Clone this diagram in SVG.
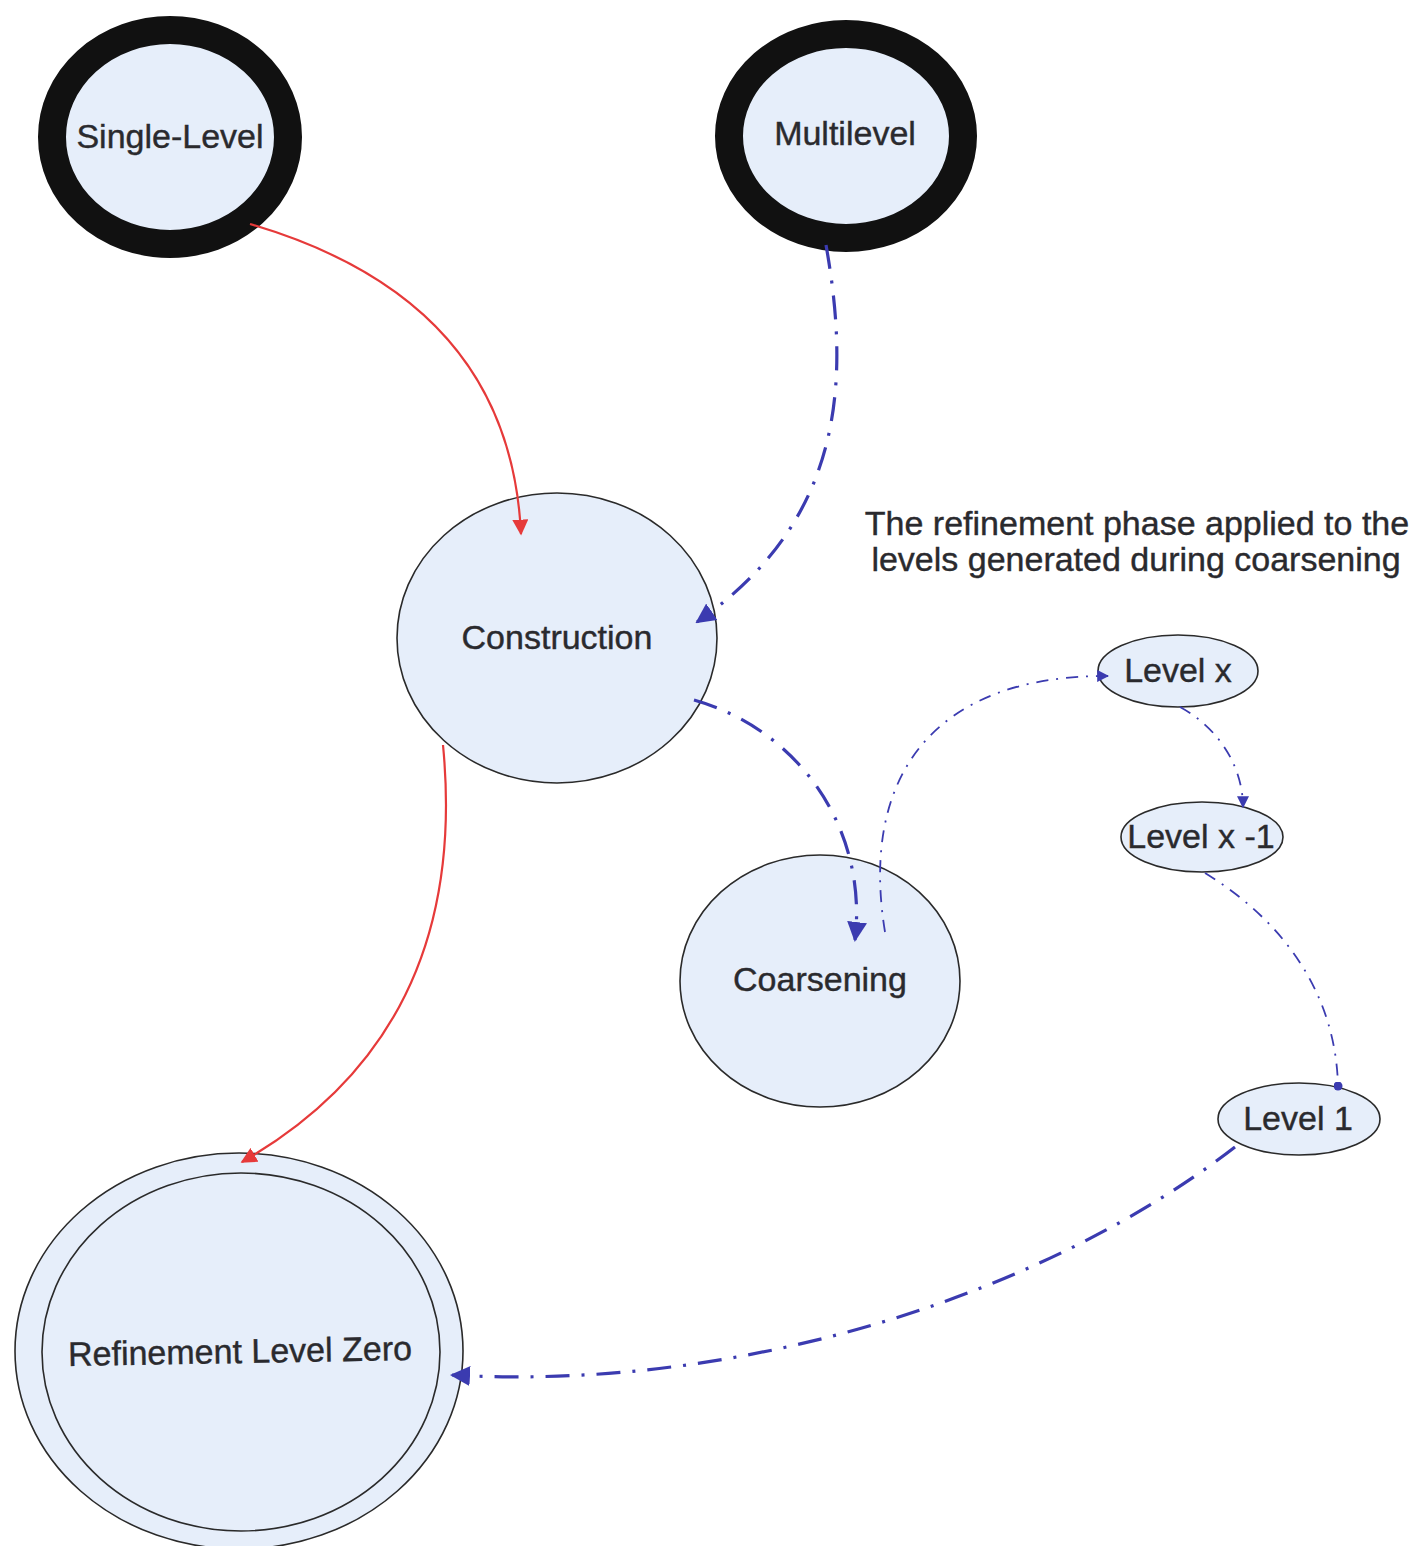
<svg xmlns="http://www.w3.org/2000/svg" width="1414" height="1546" viewBox="0 0 1414 1546">
  <style>
    .node { fill: #e6eefa; stroke: #2a2a2a; stroke-width: 1.6; }
    .start { fill: #e6eefa; stroke: #111; }
    .lbl { font-family: "Liberation Sans", Arial, sans-serif; font-size: 34px; fill: #2a2a2e; stroke: #2a2a2e; stroke-width: 0.4; text-anchor: middle; }
    .red { fill: none; stroke: #e63a3a; stroke-width: 2.2; }
    .blue { fill: none; stroke: #3b3bb0; stroke-linecap: butt; }
    .thick { stroke-width: 3.2; stroke-dasharray: 24 12 3 12; }
    .thin { stroke-width: 1.8; stroke-dasharray: 12 8 2 8; }
  </style>
  <defs>
    <marker id="redArrow" viewBox="0 0 10 10" refX="9" refY="5" markerWidth="16" markerHeight="16" markerUnits="userSpaceOnUse" orient="auto">
      <path d="M0,0 L10,5 L0,10 z" fill="#e63a3a"/>
    </marker>
    <marker id="blueArrow" viewBox="0 0 10 10" refX="9" refY="5" markerWidth="20" markerHeight="20" markerUnits="userSpaceOnUse" orient="auto">
      <path d="M0,0 L10,5 L0,10 z" fill="#3b3bb0"/>
    </marker>
    <marker id="blueArrowSm" viewBox="0 0 10 10" refX="9" refY="5" markerWidth="12" markerHeight="12" markerUnits="userSpaceOnUse" orient="auto">
      <path d="M0,0 L10,5 L0,10 z" fill="#3b3bb0"/>
    </marker>
    <marker id="blueDot" viewBox="0 0 10 10" refX="5" refY="5" markerWidth="9" markerHeight="9" markerUnits="userSpaceOnUse">
      <circle cx="5" cy="5" r="5" fill="#3b3bb0"/>
    </marker>
  </defs>

  <rect width="1414" height="1546" fill="#ffffff"/>

  <!-- start states -->
  <g id="single-level">
    <ellipse class="start" cx="170" cy="137" rx="118" ry="107" stroke-width="28"/>
    <text class="lbl" x="170" y="148">Single-Level</text>
  </g>
  <g id="multilevel">
    <ellipse class="start" cx="846" cy="136" rx="117" ry="102" stroke-width="28"/>
    <text class="lbl" x="845" y="145">Multilevel</text>
  </g>

  <!-- phases -->
  <g id="construction">
    <ellipse class="node" cx="557" cy="638" rx="160" ry="145"/>
    <text class="lbl" x="557" y="649">Construction</text>
  </g>
  <g id="coarsening">
    <ellipse class="node" cx="820" cy="981" rx="140" ry="126"/>
    <text class="lbl" x="820" y="991">Coarsening</text>
  </g>

  <!-- coarsened levels -->
  <g id="level-x">
    <ellipse class="node" cx="1178" cy="671" rx="80" ry="36"/>
    <text class="lbl" x="1178" y="682">Level x</text>
  </g>
  <g id="level-x-1">
    <ellipse class="node" cx="1202" cy="837" rx="81" ry="35"/>
    <text class="lbl" x="1201" y="848">Level x -1</text>
  </g>
  <g id="level-1">
    <ellipse class="node" cx="1299" cy="1119" rx="81" ry="36"/>
    <text class="lbl" x="1298" y="1130">Level 1</text>
  </g>

  <!-- final state -->
  <g id="refinement-level-zero">
    <ellipse class="node" cx="239" cy="1351" rx="224" ry="198"/>
    <ellipse class="node" cx="241" cy="1352" rx="199" ry="179"/>
    <text class="lbl" x="240" y="1363" transform="rotate(-1 240 1352)">Refinement Level Zero</text>
  </g>

  <!-- annotation -->
  <g id="note">
    <text class="lbl" x="1137" y="535">The refinement phase applied to the</text>
    <text class="lbl" x="1136" y="571">levels generated during coarsening</text>
  </g>

  <!-- connectors, drawn over the nodes they enter -->
  <g id="connectors">
    <path class="red" d="M250,224 Q510,300 521,534" marker-end="url(#redArrow)"/>
    <path class="red" d="M443,745 C458,900 420,1060 242,1162" marker-end="url(#redArrow)"/>
    <path class="blue thick" d="M826,245 C850,380 845,520 697,622" marker-end="url(#blueArrow)"/>
    <path class="blue thick" d="M694,700 C800,730 868,830 855,940" marker-end="url(#blueArrow)"/>
    <path class="blue thin" d="M885,932 C860,780 930,675 1108,676" marker-end="url(#blueArrowSm)"/>
    <path class="blue thin" d="M1180,707 C1222,730 1243,770 1243,807" marker-end="url(#blueArrowSm)"/>
    <path class="blue thin" d="M1205,873 C1290,925 1336,1000 1338,1086" marker-end="url(#blueDot)"/>
    <path class="blue thick" d="M1235,1147 C1050,1290 750,1392 452,1375" marker-end="url(#blueArrow)"/>
  </g>
</svg>
